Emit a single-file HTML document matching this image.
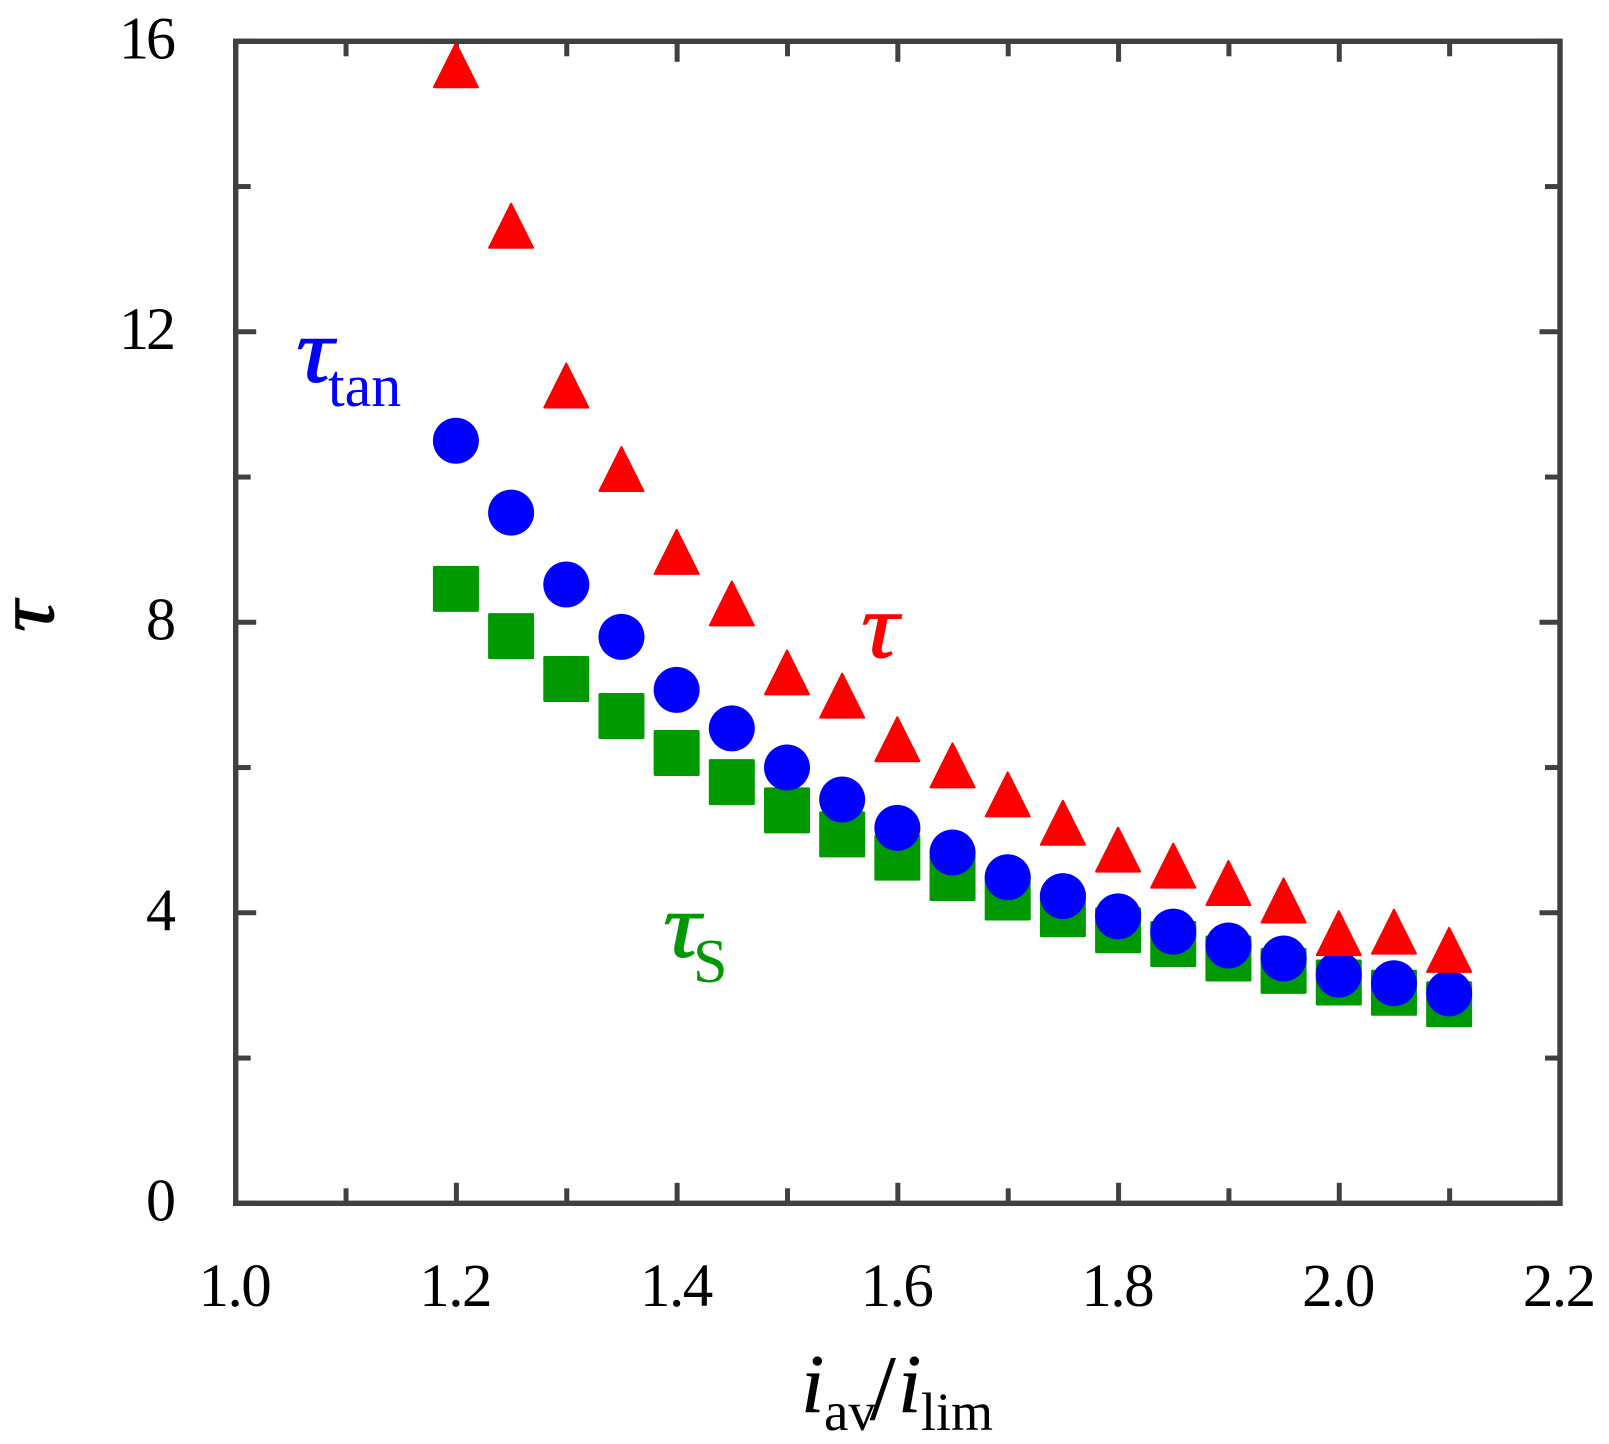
<!DOCTYPE html>
<html lang="en">
<head>
<meta charset="utf-8">
<title>Tau versus current ratio</title>
<style>
  html, body { margin: 0; padding: 0; background: #ffffff; }
  body { width: 1609px; height: 1444px; overflow: hidden; }
  svg { display: block; }
  text { font-family: "Liberation Serif", serif; }
</style>
</head>
<body>
<svg id="chart" xmlns="http://www.w3.org/2000/svg" width="1609" height="1444" viewBox="0 0 1609 1444">
  <rect x="0" y="0" width="1609" height="1444" fill="#ffffff"/>
  <g id="ticks"></g>
  <g id="squares"></g>
  <g id="circles"></g>
  <g id="triangles"></g>
  <rect x="235.7" y="41.3" width="1324.3" height="1162" fill="none" stroke="#404040" stroke-width="5.4"/>
  <g id="xlabels"></g>
  <g id="ylabels"></g>

  <g fill="#000000">
    <text x="801" y="1412" font-size="84" font-style="italic" stroke="#000000" stroke-width="0.5">i</text>
    <text x="824" y="1430" font-size="55">av</text>
    <text x="870" y="1419" font-size="92" stroke="#000000" stroke-width="0.5">/</text>
    <text x="898" y="1412" font-size="84" font-style="italic" stroke="#000000" stroke-width="0.5">i</text>
    <text x="921" y="1430" font-size="54">lim</text>
  </g>
  <text transform="translate(53 632) rotate(-90) scale(1 0.93)" font-size="88" font-style="italic" fill="#000000" stroke="#000000" stroke-width="1">τ</text>

  <g fill="#0000ff">
    <text transform="translate(296 381.5) scale(1.05 0.92)" font-size="100" font-style="italic" stroke="#0000ff" stroke-width="1">τ</text>
    <text x="328" y="406" font-size="60">tan</text>
  </g>
  <text transform="translate(861 657) scale(1.05 0.92)" font-size="100" font-style="italic" fill="#ff0000" stroke="#ff0000" stroke-width="1">τ</text>
  <g fill="#009900">
    <text transform="translate(663 956.5) scale(1.05 0.92)" font-size="100" font-style="italic" stroke="#009900" stroke-width="1">τ</text>
    <text x="693" y="982" font-size="62">S</text>
  </g>
</svg>

<script>
const xValues = [1.2, 1.25, 1.3, 1.35, 1.4, 1.45, 1.5, 1.55, 1.6, 1.65, 1.7, 1.75, 1.8, 1.85, 1.9, 1.95, 2.0, 2.05, 2.1];
const tauValues = [15.67, 13.46, 11.26, 10.11, 8.97, 8.26, 7.31, 6.99, 6.39, 6.03, 5.63, 5.24, 4.87, 4.65, 4.41, 4.17, 3.72, 3.74, 3.49];
const tauTanValues = [10.50, 9.51, 8.52, 7.80, 7.07, 6.54, 6.00, 5.56, 5.17, 4.83, 4.49, 4.23, 3.95, 3.74, 3.55, 3.37, 3.15, 3.03, 2.89];
const tauSValues = [8.46, 7.81, 7.22, 6.71, 6.20, 5.80, 5.41, 5.08, 4.76, 4.48, 4.21, 3.98, 3.76, 3.57, 3.37, 3.20, 3.04, 2.90, 2.74];
const xMajorTicks = ["1.0", "1.2", "1.4", "1.6", "1.8", "2.0", "2.2"];
const xMinorTicks = [1.1, 1.3, 1.5, 1.7, 1.9, 2.1];
const yMajorTicks = ["0", "4", "8", "12", "16"];
const yMinorTicks = [2, 6, 10, 14];

const NS = "http://www.w3.org/2000/svg";
const plotLeft = 235.7, plotRight = 1560, plotTop = 41.3, plotBottom = 1203.3;
const xMin = 1.0, xMax = 2.2, yMin = 0, yMax = 16;
const markerHalf = 23;
function xScale(v) { return plotLeft + (v - xMin) / (xMax - xMin) * (plotRight - plotLeft); }
function yScale(v) { return plotBottom - (v - yMin) / (yMax - yMin) * (plotBottom - plotTop); }

function makeTick(parent, x1, y1, x2, y2) {
  const line = document.createElementNS(NS, "line");
  line.setAttribute("x1", x1);
  line.setAttribute("y1", y1);
  line.setAttribute("x2", x2);
  line.setAttribute("y2", y2);
  line.setAttribute("stroke", "#404040");
  line.setAttribute("stroke-width", "5");
  
  
  parent.appendChild(line);
}
function makeLabel(parent, x, y, anchor, str, size, spacing) {
  const t = document.createElementNS(NS, "text");
  t.setAttribute("x", x);
  t.setAttribute("y", y);
  t.setAttribute("text-anchor", anchor);
  t.setAttribute("font-size", size);
  t.setAttribute("letter-spacing", spacing);
  t.setAttribute("fill", "#000000");
  t.textContent = str;
  
  
  parent.appendChild(t);
}

const tickGroup = document.getElementById("ticks");
const xLabelGroup = document.getElementById("xlabels");
const yLabelGroup = document.getElementById("ylabels");
xMajorTicks.forEach(function (s) {
  const x = xScale(parseFloat(s));
  makeTick(tickGroup, x, plotBottom, x, plotBottom - 20.5);
  makeTick(tickGroup, x, plotTop, x, plotTop + 20.5);
  makeLabel(xLabelGroup, x - 1.3, 1306, "middle", s, 61, -1.5);
});
xMinorTicks.forEach(function (v) {
  const x = xScale(v);
  makeTick(tickGroup, x, plotBottom, x, plotBottom - 15);
  makeTick(tickGroup, x, plotTop, x, plotTop + 15);
});
yMajorTicks.forEach(function (s) {
  const y = yScale(parseFloat(s));
  makeTick(tickGroup, plotLeft, y, plotLeft + 20.5, y);
  makeTick(tickGroup, plotRight, y, plotRight - 20.5, y);
  makeLabel(yLabelGroup, 173, y + 17, "end", s, 60, -3);
});
yMinorTicks.forEach(function (v) {
  const y = yScale(v);
  makeTick(tickGroup, plotLeft, y, plotLeft + 15, y);
  makeTick(tickGroup, plotRight, y, plotRight - 15, y);
});

const squareGroup = document.getElementById("squares");
tauSValues.forEach(function (v, i) {
  const r = document.createElementNS(NS, "rect");
  r.setAttribute("x", xScale(xValues[i]) - 0.5 - markerHalf);
  r.setAttribute("y", yScale(v) - markerHalf);
  r.setAttribute("width", markerHalf * 2);
  r.setAttribute("height", markerHalf * 2);
  r.setAttribute("rx", "1.5");
  r.setAttribute("fill", "#009900");
  
  
  squareGroup.appendChild(r);
});

const circleGroup = document.getElementById("circles");
tauTanValues.forEach(function (v, i) {
  const c = document.createElementNS(NS, "circle");
  c.setAttribute("cx", xScale(xValues[i]) - 0.5);
  c.setAttribute("cy", yScale(v));
  c.setAttribute("r", markerHalf);
  c.setAttribute("fill", "#0000ff");
  
  
  circleGroup.appendChild(c);
});

const triangleGroup = document.getElementById("triangles");
tauValues.forEach(function (v, i) {
  const cx = xScale(xValues[i]) - 0.5;
  const cy = yScale(v);
  const p = document.createElementNS(NS, "polygon");
  p.setAttribute("points", cx + "," + (cy - markerHalf + 1) + " " + (cx + markerHalf - 1) + "," + (cy + markerHalf - 1) + " " + (cx - markerHalf + 1) + "," + (cy + markerHalf - 1));
  p.setAttribute("fill", "#ff0000");
  p.setAttribute("stroke", "#ff0000");
  p.setAttribute("stroke-width", "2");
  p.setAttribute("stroke-linejoin", "round");
  
  
  triangleGroup.appendChild(p);
});
</script>
</body>
</html>
